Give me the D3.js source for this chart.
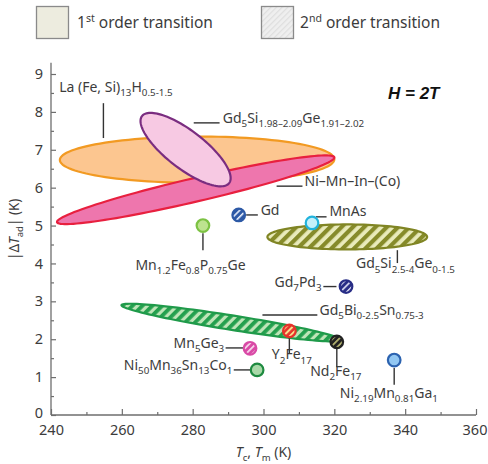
<!DOCTYPE html>
<html><head><meta charset="utf-8">
<script src="https://cdn.jsdelivr.net/npm/d3@7"></script>
<style>
html,body{margin:0;padding:0;background:#fff;}
svg{display:block;font-family:"Noto Sans",sans-serif;}
</style></head>
<body>
<svg id="c" width="488" height="464"></svg>
<script>
// ---------- data ----------
const xTicks = [240, 260, 280, 300, 320, 340, 360];
const yTicks = [0, 1, 2, 3, 4, 5, 6, 7, 8, 9];

// ellipses: major-axis end points (Tc, |dT|) and semi-minor axis in K of |dT|
const ellNames = ["La(Fe,Si)13H", "Ni-Mn-In-(Co)", "Gd5Si2Ge2", "Gd5Si2.5-4Ge0-1.5", "Gd5Bi0-2.5Sn0.75-3"];
const ellT1 = [242.5, 241.7, 265.7, 301.1, 259.9];
const ellD1 = [6.73, 5.09, 7.89, 4.70, 2.90];
const ellT2 = [320.0, 320.0, 290.3, 346.2, 321.9];
const ellD2 = [6.75, 6.80, 6.12, 4.70, 1.98];
const ellW = [0.61, 0.31, 0.50, 0.33, 0.19];
const ellOrder = ["first", "first", "first", "second", "second"];

// single materials
const ptNames = ["Mn1.2Fe0.8P0.75Ge", "Gd", "MnAs", "Gd7Pd3", "Y2Fe17", "Nd2Fe17", "Mn5Ge3", "Ni50Mn36Sn13Co1", "Ni2.19Mn0.81Ga1"];
const ptT = [282.9, 293.0, 313.7, 323.3, 307.3, 320.7, 296.2, 298.2, 336.9];
const ptD = [5.00, 5.28, 5.07, 3.39, 2.22, 1.93, 1.76, 1.19, 1.45];
const ptOrder = ["first", "second", "first", "second", "second", "second", "second", "first", "first"];

// ---------- styles ----------
const ellStyle = [
  {fill: "#fcc690", stroke: "#f29a22"},
  {fill: "#ee76ad", stroke: "#e8203f"},
  {fill: "#f7c9e3", stroke: "#7a2d80"},
  {fill: "url(#hOlive)", stroke: "#808524"},
  {fill: "url(#hGreen)", stroke: "#1f9a4a"}
];
const ptStyle = [
  {fill: "#bde38f", stroke: "#7cc243"},
  {fill: "url(#hBlue)", stroke: "#2d59a6"},
  {fill: "#c4f0fb", stroke: "#22b3dc"},
  {fill: "url(#hNavy)", stroke: "#282d86"},
  {fill: "url(#hRed)", stroke: "#e6322b"},
  {fill: "url(#hBlack)", stroke: "#222222"},
  {fill: "url(#hPink)", stroke: "#d94aa6"},
  {fill: "#a9d9a8", stroke: "#1e8a40"},
  {fill: "#92c7f2", stroke: "#2c63b0"}
];

// ---------- labels (positions in data units) ----------
const labels = [
  {txt: "La (Fe, Si)_{13}H_{0.5-1.5}", t: 242.3, d: 8.52, anchor: "start", line: [[254.8, 8.23], [254.8, 7.31]]},
  {txt: "Gd_{5}Si_{1.98–2.09}Ge_{1.91–2.02}", t: 288.5, d: 7.71, anchor: "start", line: [[280.3, 7.71], [287.6, 7.71]]},
  {txt: "Ni–Mn–In–(Co)", t: 311.6, d: 6.04, anchor: "start", line: [[303.7, 6.04], [311.0, 6.04]]},
  {txt: "Gd", t: 299.2, d: 5.28, anchor: "start", line: [[295.1, 5.28], [298.4, 5.28]]},
  {txt: "MnAs", t: 318.6, d: 5.25, anchor: "start", line: [[314.8, 5.23], [317.8, 5.23]]},
  {txt: "Gd_{5}Si_{2.5-4}Ge_{0-1.5}", t: 326.1, d: 3.87, anchor: "start", line: [[337.8, 4.35], [337.8, 4.01]]},
  {txt: "Gd_{7}Pd_{3}", t: 316.4, d: 3.39, anchor: "end", line: [[316.9, 3.39], [320.6, 3.39]]},
  {txt: "Mn_{1.2}Fe_{0.8}P_{0.75}Ge", t: 279.4, d: 3.82, anchor: "middle", line: [[282.9, 4.80], [282.9, 4.35]]},
  {txt: "Gd_{5}Bi_{0-2.5}Sn_{0.75-3}", t: 315.8, d: 2.64, anchor: "start", line: [[299.7, 2.64], [315.2, 2.64]]},
  {txt: "Y_{2}Fe_{17}", t: 308.0, d: 1.47, anchor: "middle", line: [[307.3, 2.03], [307.3, 1.61]]},
  {txt: "Nd_{2}Fe_{17}", t: 320.4, d: 1.04, anchor: "middle", line: [[320.7, 1.77], [320.7, 1.26]]},
  {txt: "Mn_{5}Ge_{3}", t: 288.9, d: 1.77, anchor: "end", line: [[289.3, 1.77], [294.3, 1.77]]},
  {txt: "Ni_{50}Mn_{36}Sn_{13}Co_{1}", t: 291.2, d: 1.19, anchor: "end", line: [[291.6, 1.19], [296.2, 1.19]]},
  {txt: "Ni_{2.19}Mn_{0.81}Ga_{1}", t: 335.4, d: 0.46, anchor: "middle", line: [[336.9, 1.24], [336.9, 0.80]]}
];

// ---------- setup ----------
const svg = d3.select("#c");
const x = d3.scaleLinear().domain([240, 360]).range([51, 476]);
const y = d3.scaleLinear().domain([0, 9]).range([415, 74]);
const axisCol = "#6e6e6e", textCol = "#3c3c3c";

const defs = svg.append("defs");
function stripes(id, bg, fg, period, w) {
  const p = defs.append("pattern").attr("id", id).attr("patternUnits", "userSpaceOnUse")
    .attr("width", period).attr("height", period).attr("patternTransform", "rotate(45)");
  p.append("rect").attr("width", period).attr("height", period).attr("fill", bg);
  p.append("rect").attr("width", w).attr("height", period).attr("fill", fg);
}
stripes("hOlive", "#e9ebbb", "#868b2a", 8, 4.2);
stripes("hGreen", "#bfe5b8", "#24a04e", 7, 3.8);
stripes("hBlue", "#2d59a6", "#e8eefa", 4.6, 1.6);
stripes("hNavy", "#282d86", "#dfe1f5", 4.6, 1.6);
stripes("hRed", "#e6322b", "#f7e08c", 4.6, 2.0);
stripes("hBlack", "#222222", "#b3b270", 4.6, 1.8);
stripes("hPink", "#d94aa6", "#f7d3ea", 4.6, 1.8);
stripes("hLegend", "#efefef", "#dedede", 4, 1.2);

function rich(sel, str, fs) {
  const parts = str.split(/(_\{[^}]*\}|\^\{[^}]*\})/).filter(s => s.length);
  let shift = 0;
  parts.forEach(p => {
    if (p.startsWith("_{")) {
      const s = fs * 0.3;
      sel.append("tspan").attr("font-size", fs * 0.7).attr("dy", s - shift).text(p.slice(2, -1));
      shift = s;
    } else if (p.startsWith("^{")) {
      const s = -fs * 0.4;
      sel.append("tspan").attr("font-size", fs * 0.68).attr("dy", s - shift).text(p.slice(2, -1));
      shift = s;
    } else {
      sel.append("tspan").attr("dy", -shift).text(p);
      shift = 0;
    }
  });
}

// ---------- legend ----------
const leg = svg.append("g");
leg.append("rect").attr("x", 36.5).attr("y", 6.5).attr("width", 32).attr("height", 32)
  .attr("fill", "#edecdf").attr("stroke", "#8a8a8a").attr("stroke-width", 1.3);
rich(leg.append("text").attr("x", 77).attr("y", 28).attr("font-size", 15.5).attr("fill", textCol), "1^{st} order transition", 15.5);
leg.append("rect").attr("x", 261.5).attr("y", 6.5).attr("width", 32).attr("height", 32)
  .attr("fill", "url(#hLegend)").attr("stroke", "#8a8a8a").attr("stroke-width", 1.3);
rich(leg.append("text").attr("x", 300).attr("y", 28).attr("font-size", 15.5).attr("fill", textCol), "2^{nd} order transition", 15.5);

// ---------- axes ----------
const gy = svg.append("g").attr("transform", `translate(${x(240)},0)`);
gy.call(d3.axisLeft(y).tickValues(yTicks).tickSize(-5).tickPadding(8).tickFormat(d3.format("d")));
const gy2 = svg.append("g").attr("transform", `translate(${x(240)},0)`);
gy2.call(d3.axisLeft(y).tickValues(d3.range(0.5, 9, 1)).tickSize(-3).tickFormat(""));
const gx = svg.append("g").attr("transform", `translate(0,${y(0)})`);
gx.call(d3.axisBottom(x).tickValues(xTicks).tickSize(-6).tickPadding(10).tickFormat(d3.format("d")));
const gx2 = svg.append("g").attr("transform", `translate(0,${y(0)})`);
gx2.call(d3.axisBottom(x).tickValues(d3.range(250, 360, 20)).tickSize(-3).tickFormat(""));
[gy, gy2, gx, gx2].forEach(g => {
  g.select(".domain").remove();
  g.selectAll("line").attr("stroke", axisCol).attr("stroke-width", 1.2);
  g.selectAll("text").attr("fill", textCol).attr("font-size", 14.5).attr("font-family", "Noto Sans");
});
gy.selectAll(".tick text").filter(d => d === 0).attr("dy", "0.2em");
gx.selectAll(".tick text").filter(d => d === 360).attr("dx", -1.5);
svg.append("line").attr("x1", x(240)).attr("x2", x(240)).attr("y1", y(9.3)).attr("y2", y(0))
  .attr("stroke", axisCol).attr("stroke-width", 1.3);
svg.append("line").attr("x1", x(240)).attr("x2", x(360)).attr("y1", y(0)).attr("y2", y(0))
  .attr("stroke", axisCol).attr("stroke-width", 1.3);

// axis titles
const yt = svg.append("text").attr("transform", `translate(19,${y(4.9)}) rotate(-90)`)
  .attr("text-anchor", "middle").attr("font-size", 13.5).attr("fill", textCol);
yt.append("tspan").text("|Δ");
yt.append("tspan").attr("font-style", "italic").text("T");
yt.append("tspan").attr("font-size", 9.5).attr("dy", 4).text("ad");
yt.append("tspan").attr("dy", -4).text("| (K)");

const xt = svg.append("text").attr("x", x(300)).attr("y", 457)
  .attr("text-anchor", "middle").attr("font-size", 14).attr("fill", textCol);
xt.append("tspan").attr("font-style", "italic").text("T");
xt.append("tspan").attr("font-size", 9.5).attr("dy", 4).text("c");
xt.append("tspan").attr("dy", -4).text(", ");
xt.append("tspan").attr("font-style", "italic").text("T");
xt.append("tspan").attr("font-size", 9.5).attr("dy", 4).text("m");
xt.append("tspan").attr("dy", -4).text(" (K)");

// ---------- ellipses ----------
function ellipsePath(i) {
  const x1 = x(ellT1[i]), y1 = y(ellD1[i]), x2 = x(ellT2[i]), y2 = y(ellD2[i]);
  const cx = (x1 + x2) / 2, cy = (y1 + y2) / 2;
  const a = Math.hypot(x2 - x1, y2 - y1) / 2;
  const b = y(0) - y(ellW[i]);
  const th = Math.atan2(y2 - y1, x2 - x1);
  const pts = d3.range(0, 361, 3).map(k => {
    const t = k * Math.PI / 180;
    const ex = a * Math.cos(t), ey = b * Math.sin(t);
    return [cx + ex * Math.cos(th) - ey * Math.sin(th), cy + ex * Math.sin(th) + ey * Math.cos(th)];
  });
  return d3.line()(pts) + "Z";
}
svg.append("g").selectAll("path").data(ellNames).join("path")
  .attr("d", (d, i) => ellipsePath(i))
  .attr("fill", (d, i) => ellStyle[i].fill)
  .attr("stroke", (d, i) => ellStyle[i].stroke)
  .attr("stroke-width", 2.2);

// ---------- leader lines & labels ----------
const lg = svg.append("g");
labels.forEach(l => {
  lg.append("line").attr("x1", x(l.line[0][0])).attr("y1", y(l.line[0][1]))
    .attr("x2", x(l.line[1][0])).attr("y2", y(l.line[1][1]))
    .attr("stroke", "#333").attr("stroke-width", 1.4);
  const t = lg.append("text").attr("x", x(l.t)).attr("y", y(l.d)).attr("dy", "0.35em")
    .attr("text-anchor", l.anchor).attr("font-size", 14).attr("fill", textCol);
  rich(t, l.txt, 14);
});

// ---------- points ----------
svg.append("g").selectAll("circle").data(ptNames).join("circle")
  .attr("cx", (d, i) => x(ptT[i])).attr("cy", (d, i) => y(ptD[i])).attr("r", 6.3)
  .attr("fill", (d, i) => ptStyle[i].fill).attr("stroke", (d, i) => ptStyle[i].stroke)
  .attr("stroke-width", 2.2);

// field annotation
svg.append("text").attr("x", 388).attr("y", 99).attr("font-size", 17).attr("font-weight", "bold")
  .attr("font-style", "italic").attr("font-family", "Liberation Sans, Arial, sans-serif")
  .attr("fill", "#111").text("H = 2T");
</script>
</body></html>
